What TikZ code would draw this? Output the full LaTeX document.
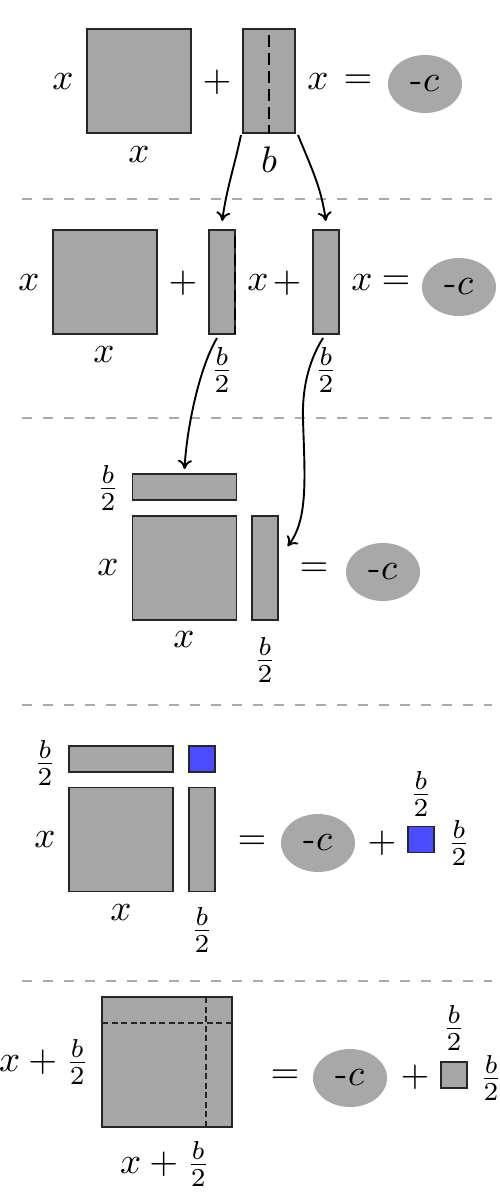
\documentclass[tikz,border=0pt]{standalone}
\usetikzlibrary{shapes.geometric,arrows.meta}
\definecolor{blockgray}{RGB}{166,166,166}
\definecolor{ellgray}{RGB}{168,168,168}
\definecolor{sqblue}{RGB}{75,75,255}
\definecolor{sepgray}{RGB}{170,170,170}
\tikzset{
  blk/.style={draw=black!85, fill=blockgray, line width=1.4pt, inner sep=0pt, outer sep=0pt},
  bluesq/.style={blk, fill=sqblue},
  ell/.style={ellipse, fill=ellgray, minimum width=74pt, minimum height=58pt, inner sep=0pt},
  lbl/.style={inner sep=0pt, scale=3.7},
  sepline/.style={draw=sepgray, line width=2pt, dash pattern=on 10pt off 11pt},
  dlineA/.style={draw=black, line width=1.4pt, dash pattern=on 12pt off 6pt, dash phase=-6pt},
  dlineB/.style={draw=black!85, line width=1.2pt, dash pattern=on 6pt off 3.5pt},
  arr/.style={draw=black, line width=1.9pt, -{Computer Modern Rightarrow[length=9pt,width=14pt]}}
}
\begin{document}
\begin{tikzpicture}[x=1pt,y=-1pt]
\useasboundingbox (0,0) rectangle (500,1201);
\fill[white] (0,0) rectangle (500,1201);

% separators
\draw[sepline] (22,199) -- (492,199);
\draw[sepline] (22,418) -- (492,418);
\draw[sepline] (22,705) -- (492,705);
\draw[sepline] (22,981) -- (492,981);

% ---------- Row 1
\node[blk, minimum width=104pt, minimum height=104pt] (s1) at (139,81) {};
\node[lbl] (s1l) at (63,82) {$x$};
\node[lbl] (s1b) at (139,155) {$x$};
\node[lbl] (p1) at (217,82) {$+$};
\node[blk, minimum width=52pt, minimum height=104pt] (r1) at (269,81) {};
\draw[dlineA] (r1.north) -- (r1.south);
\node[lbl] (r1b) at (269,160) {$b$};
\node[lbl] (x1) at (318,82) {$x$};
\node[lbl] (q1) at (358,82) {$=$};
\node[ell] (e1) at (425,84) {};
\node[lbl] (e1t) at (e1) {-$c$};

% ---------- Row 2
\node[blk, minimum width=104pt, minimum height=104pt] (s2) at (105,282) {};
\node[lbl] (s2l) at (29,283) {$x$};
\node[lbl] (s2b) at (104,355) {$x$};
\node[lbl] (p2) at (183,283) {$+$};
\node[blk, minimum width=26pt, minimum height=104pt] (rA) at (222,282) {};
\draw[dlineA] (rA.north east) -- (rA.south east);
\node[lbl] (rAb) at (222,370) {$\frac{b}{2}$};
\node[lbl] (x2a) at (258,283) {$x$};
\node[lbl] (p2b) at (287,283) {$+$};
\node[blk, minimum width=26pt, minimum height=104pt] (rB) at (326,282) {};
\node[lbl] (rBb) at (326,370) {$\frac{b}{2}$};
\node[lbl] (x2b) at (362,283) {$x$};
\node[lbl] (q2) at (396,283) {$=$};
\node[ell] (e2) at (459,287) {};
\node[lbl] (e2t) at (e2) {-$c$};

% ---------- Row 3
\node[blk, minimum width=104pt, minimum height=26pt] (rT) at (184.5,487) {};
\node[blk, minimum width=104pt, minimum height=104pt] (s3) at (184.5,568) {};
\node[blk, minimum width=26pt, minimum height=104pt] (rC) at (265,568) {};
\node[lbl] (rTl) at (108,488) {$\frac{b}{2}$};
\node[lbl] (s3l) at (108,568) {$x$};
\node[lbl] (s3b) at (184,640) {$x$};
\node[lbl] (rCb) at (265,660) {$\frac{b}{2}$};
\node[lbl] (q3) at (314,570) {$=$};
\node[ell] (e3) at (383,572) {};
\node[lbl] (e3t) at (e3) {-$c$};

% ---------- Row 4
\node[blk, minimum width=104pt, minimum height=26pt] (rT4) at (121,759) {};
\node[bluesq, minimum width=26pt, minimum height=26pt] (bq4) at (202,759) {};
\node[blk, minimum width=104pt, minimum height=104pt] (s4) at (121,839.5) {};
\node[blk, minimum width=26pt, minimum height=104pt] (rC4) at (202,839.5) {};
\node[lbl] (rT4l) at (45,763) {$\frac{b}{2}$};
\node[lbl] (s4l) at (45,840) {$x$};
\node[lbl] (s4b) at (121,913) {$x$};
\node[lbl] (rC4b) at (202,930) {$\frac{b}{2}$};
\node[lbl] (q4) at (252,843) {$=$};
\node[ell] (e4) at (318,843) {};
\node[lbl] (e4t) at (e4) {-$c$};
\node[lbl] (p4) at (382,843) {$+$};
\node[bluesq, minimum width=26pt, minimum height=26pt] (sb4) at (421,839.5) {};
\node[lbl] (sb4t) at (421,794) {$\frac{b}{2}$};
\node[lbl] (sb4r) at (459,843) {$\frac{b}{2}$};

% ---------- Row 5
\node[blk, minimum width=130pt, minimum height=130pt] (s5) at (167,1062) {};
\draw[dlineB] ([yshift=-26pt]s5.north west) -- ([yshift=-26pt]s5.north east);
\draw[dlineB] ([xshift=-26pt]s5.north east) -- ([xshift=-26pt]s5.south east);
\node[lbl] (s5l) at (44,1062) {$x+\frac{b}{2}$};
\node[lbl] (s5b) at (165,1164) {$x+\frac{b}{2}$};
\node[lbl] (q5) at (285,1077) {$=$};
\node[ell] (e5) at (350,1078) {};
\node[lbl] (e5t) at (e5) {-$c$};
\node[lbl] (p5) at (415,1077) {$+$};
\node[blk, minimum width=26pt, minimum height=26pt] (g5) at (454,1075) {};
\node[lbl] (g5t) at (454,1028) {$\frac{b}{2}$};
\node[lbl] (g5r) at (491,1078) {$\frac{b}{2}$};

% ---------- Arrows
\draw[arr, shorten >=1pt] ([xshift=-2pt,yshift=-2pt]r1.south west) to[out=-102,in=82] ([yshift=8pt]rA.north);
\draw[arr, shorten >=1pt] ([xshift=3pt,yshift=-2pt]r1.south east) to[out=-68,in=98] ([yshift=8pt]rB.north);
\draw[arr, shorten >=1pt] ([xshift=-5pt,yshift=-4pt]rA.south) .. controls +(-18,30) and +(2,-40) .. ([yshift=4pt]rT.north);
\draw[arr, shorten >=1pt] ([xshift=-3pt,yshift=-4pt]rB.south) .. controls +(-15,24) and +(-1,-30) .. (303,420) .. controls +(2,60) and +(21,-27) .. ([xshift=9pt,yshift=21pt]rC.east);
\end{tikzpicture}
\end{document}
